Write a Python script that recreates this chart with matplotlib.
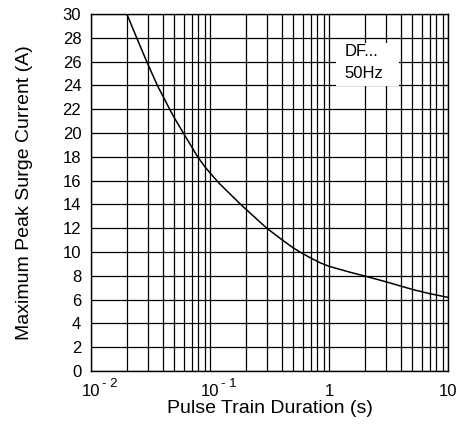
import numpy as np
import matplotlib
matplotlib.use("Agg")
import matplotlib.pyplot as plt
from matplotlib.ticker import FixedLocator, NullFormatter
from matplotlib.patches import Rectangle

plt.rcParams['font.family'] = ['Liberation Sans', 'DejaVu Sans']

# curve
duration = [0.02, 0.0242, 0.0294, 0.0361, 0.0461, 0.05, 0.0597, 0.07, 0.0788,
            0.09, 0.1, 0.12, 0.15, 0.179, 0.2, 0.3, 0.4, 0.5, 0.57, 0.7,
            0.84, 1.0, 1.5, 2.0, 3.0, 5.0, 7.0, 10.0]
current = [30, 28, 26, 24, 21.95, 21.3, 20, 18.85, 18, 17.2, 16.65, 15.75,
           14.8, 14.05, 13.6, 12, 11.05, 10.35, 10, 9.5, 9.1, 8.8, 8.3, 7.98,
           7.5, 6.86, 6.5, 6.19]

y_ticks = list(range(0, 31, 2))
x_major = [0.01, 0.1, 1, 10]
x_base = ['10', '10', '1', '10']
x_sup = ['- 2', '- 1', '', '']
box_lines = ['DF...', '50Hz']

fig = plt.figure(figsize=(4.63, 4.25), dpi=100)
ax = fig.add_axes([91 / 463, 54 / 425, 357 / 463, 357 / 425])

ax.set_xscale('log')
ax.set_xlim(0.01, 10)
ax.set_ylim(0, 30)

minor = [m * d for d in [0.01, 0.1, 1] for m in range(2, 10)]
ax.xaxis.set_major_locator(FixedLocator(x_major))
ax.xaxis.set_minor_locator(FixedLocator(minor))
ax.xaxis.set_minor_formatter(NullFormatter())
ax.set_xticklabels(x_base)
ax.set_yticks(y_ticks)

ax.grid(True, which='both', axis='x', color='black', lw=0.9)
ax.grid(True, which='major', axis='y', color='black', lw=0.9)
ax.tick_params(which='both', length=0, labelsize=12, pad=9)
ax.tick_params(axis='y', pad=7)
for s in ax.spines.values():
    s.set_linewidth(1.0)

for xv, sup in zip(x_major, x_sup):
    if sup:
        ax.annotate(sup, xy=(xv, 0), xycoords=('data', 'axes fraction'),
                    xytext=(8, -14), textcoords='offset points',
                    fontsize=9.5, ha='left', va='bottom')

ax.plot(duration, current, color='black', lw=1.1, zorder=3)

# white label box over the grid
ax.add_patch(Rectangle((0.686, 0.798), 0.177, 0.121, transform=ax.transAxes,
                       facecolor='white', edgecolor='none', zorder=2))
ax.text(0.711, 0.896, box_lines[0], transform=ax.transAxes, fontsize=12,
        ha='left', va='center', zorder=4)
ax.text(0.711, 0.832, box_lines[1], transform=ax.transAxes, fontsize=12,
        ha='left', va='center', zorder=4)

ax.set_xlabel('Pulse Train Duration (s)', fontsize=14, labelpad=1)
ax.set_ylabel('Maximum Peak Surge Current (A)', fontsize=14, labelpad=21)

fig.savefig('out.png', dpi=100)
